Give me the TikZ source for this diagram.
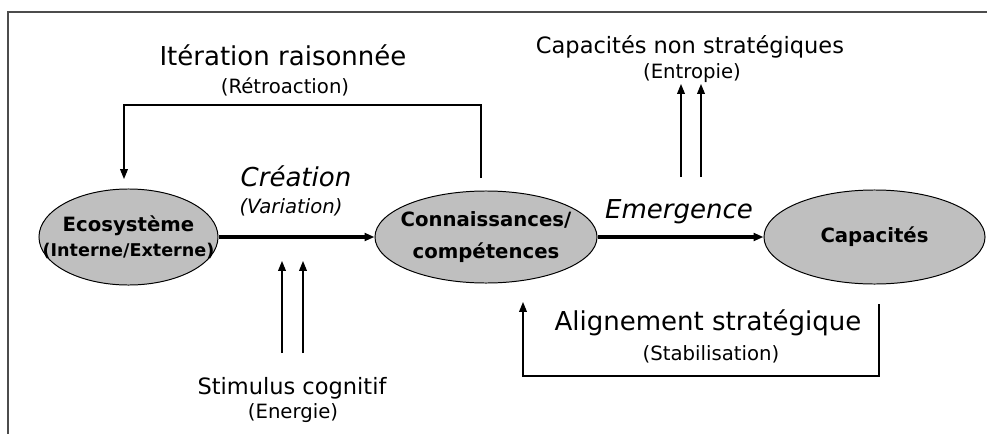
\documentclass[tikz,border=0pt]{standalone}
\usepackage{fontspec}
\setmainfont{DejaVu Sans}
\usetikzlibrary{shapes,arrows.meta}

\begin{document}
\begin{tikzpicture}[x=0.025cm, y=-0.025cm, >={Triangle[length=7pt,width=5.5pt]},
  bulle/.style={ellipse, draw, line width=0.7pt, fill=black!25, inner sep=0pt},
  grand/.style={font=\fontsize{18.5}{22}\selectfont},
  moyen/.style={font=\fontsize{16}{19}\selectfont},
  petit/.style={font=\fontsize{14}{17}\selectfont},
  gras/.style={font=\bfseries\fontsize{14}{23}\selectfont, align=center}]
\useasboundingbox (0,0) rectangle (987,434);
\draw[line width=1.4pt, black!70] (987,12)--(8,12)--(8,434);

\node[bulle, minimum width=4.475cm, minimum height=2.4cm,
  label={[gras]center:{Ecosystème\\[-5pt]\fontsize{12.5}{15}\selectfont(Interne/Externe)}}] (eco) at (128.5,237) {};
\node[bulle, minimum width=5.55cm, minimum height=2.3cm,
  label={[gras]center:{Connaissances/\\compétences}}] (conn) at (486,237) {};
\node[bulle, minimum width=5.525cm, minimum height=2.35cm,
  label={[gras]center:{Capacités}}] (capa) at (874.5,237) {};

\draw[->, line width=2.2pt] (eco.east) -- (conn.west);
\draw[->, line width=2.2pt] (conn.east) -- (capa.west);

\node[grand] (iter) at (283,55) {Itération raisonnée};
\node[petit] (retro) at (285,87) {(Rétroaction)};
\node[grand] (crea) at (296,176) {\itshape Création};
\node[petit] (vari) at (291,207) {\itshape (Variation)};
\node[grand] (emer) at (679,212) {\itshape Emergence};
\node[moyen] (nonstrat) at (690,47) {Capacités non stratégiques};
\node[petit] (entro) at (692,73) {(Entropie)};
\node[grand] (align) at (708,323) {Alignement stratégique};
\node[petit] (stab) at (711,354) {(Stabilisation)};
\node[moyen] (stim) at (292,388) {Stimulus cognitif};
\node[petit] (ener) at (293,413) {(Energie)};

\coordinate (retroA) at (481,178);
\coordinate (retroB) at (124,179);
\draw[->, line width=0.8pt] (retroA) -- ++(0,-73) -| (retroB);

\coordinate (alignA) at (879,304);
\coordinate (alignB) at (523,302);
\draw[->, line width=0.8pt] (alignA) -- ++(0,72) -| (alignB);

\foreach \x in {282,303}
  \draw[->, line width=0.8pt] (\x,353) -- (\x,261);
\foreach \x in {681,701}
  \draw[->, line width=0.8pt] (\x,177) -- (\x,84);
\end{tikzpicture}
\end{document}
